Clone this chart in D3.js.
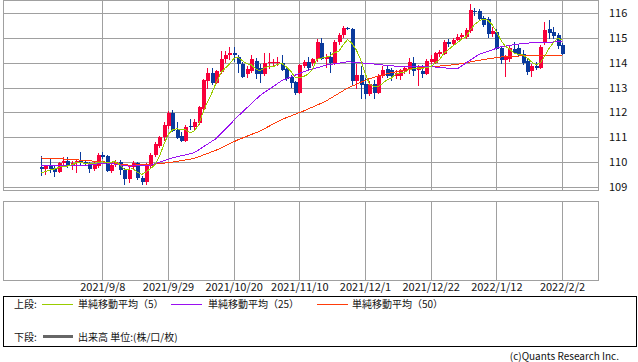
<!DOCTYPE html>
<html>
<head>
<meta charset="utf-8">
<script src="https://cdn.jsdelivr.net/npm/d3@7"></script>
<style>
body { margin: 0; background: #fff; }
text { font-family: "Noto Sans CJK JP", "Noto Sans", sans-serif; fill: #111; }
</style>
</head>
<body>
<svg id="svg1" width="638" height="362"></svg>
<script>
// daily candles, 2021/8/19 - 2022/2/2 (weekdays)
var opens  = [109.80,109.72,109.84,109.76,109.60,109.95,110.06,109.84,109.99,110.06,
              110.00,109.93,109.72,109.84,110.28,110.24,109.66,109.90,110.00,109.67,
              109.33,109.80,109.98,109.37,109.19,109.83,110.30,110.64,111.00,111.45,
              111.99,111.30,111.05,110.85,111.46,111.40,111.56,112.12,113.27,113.58,
              113.20,113.63,114.14,114.30,114.40,114.25,113.94,113.54,113.67,114.07,
              113.80,113.54,113.98,114.00,113.98,113.97,113.74,113.44,113.23,112.80,
              113.87,114.03,113.98,114.14,114.79,114.14,114.25,113.98,114.83,115.10,
              115.40,115.35,113.27,113.50,113.13,112.73,113.13,112.80,113.48,113.75,
              113.72,113.48,113.45,113.65,113.75,113.98,113.70,113.65,113.54,114.05,
              114.00,114.36,114.34,114.84,114.75,114.92,115.05,115.02,115.28,116.10,
              116.09,115.80,115.75,115.15,115.25,114.60,114.12,114.14,114.57,114.60,
              114.34,114.07,113.66,113.85,113.80,114.79,115.35,115.22,115.11,114.70];
var highs  = [110.24,109.90,110.15,109.90,110.02,110.20,110.22,110.05,110.10,110.42,
              110.10,110.00,110.02,110.36,110.42,110.30,109.98,110.10,110.10,109.75,
              109.80,110.05,110.00,109.45,109.95,110.35,110.80,111.05,111.60,112.05,
              112.08,111.60,111.20,111.48,111.72,111.72,112.28,113.35,113.78,113.78,
              113.70,114.48,114.48,114.63,114.65,114.30,114.05,113.85,114.30,114.20,
              113.95,114.38,114.40,114.15,114.25,114.30,113.80,113.50,113.25,113.95,
              114.10,114.25,114.20,114.95,114.99,114.35,114.45,114.90,115.18,115.46,
              115.45,115.40,113.95,113.85,113.40,113.25,113.30,113.55,113.85,113.90,
              113.80,113.70,113.75,113.85,114.20,114.25,113.90,113.90,114.15,114.30,
              114.45,114.50,114.90,114.95,115.00,115.15,115.20,115.40,116.35,116.20,
              116.15,115.90,115.85,115.45,115.35,114.65,114.30,114.70,114.85,114.75,
              114.50,114.15,113.95,114.05,114.72,115.62,115.73,115.45,115.20,114.80];
var lows   = [109.43,109.50,109.57,109.39,109.55,109.90,109.75,109.68,109.58,109.90,
              109.85,109.55,109.65,109.78,110.13,109.60,109.55,109.80,109.50,109.07,
              109.15,109.70,109.28,109.10,109.08,109.78,110.20,110.55,110.85,111.35,
              111.20,110.92,110.80,110.82,111.30,111.30,111.50,112.05,112.96,113.10,
              113.15,113.55,113.98,114.10,114.05,113.60,113.40,113.40,113.60,113.35,
              113.20,113.45,113.75,113.85,113.85,113.65,113.25,113.00,112.72,112.75,
              113.80,113.70,113.85,114.05,114.10,113.80,113.60,113.90,114.70,115.00,
              115.30,113.10,112.95,112.55,112.55,112.65,112.55,112.75,113.40,113.40,
              113.25,113.35,113.30,113.55,113.55,113.45,113.06,113.40,113.50,113.95,
              113.95,114.25,114.30,114.65,114.70,114.88,114.95,114.95,115.20,115.90,
              115.70,115.45,115.00,115.05,114.50,113.95,113.44,114.05,114.35,114.25,
              113.90,113.50,113.42,113.70,113.75,114.70,114.95,114.95,114.55,114.30];
var closes = [109.74,109.84,109.74,109.60,109.97,110.06,109.84,109.97,110.05,110.00,
              109.91,109.72,109.96,110.28,110.22,109.66,109.90,110.00,109.67,109.33,
              109.70,109.95,109.36,109.19,109.87,110.30,110.73,111.00,111.48,111.99,
              111.27,110.98,110.85,111.42,111.40,111.61,112.23,113.29,113.58,113.17,
              113.65,114.17,114.30,114.40,114.32,113.94,113.44,113.74,114.14,113.54,
              113.54,113.98,114.05,114.05,114.05,113.71,113.33,113.20,112.80,113.90,
              114.03,113.77,114.17,114.82,114.14,114.25,113.98,114.83,115.10,115.40,
              115.35,113.27,113.50,113.10,112.73,113.13,112.80,113.45,113.72,113.45,
              113.48,113.60,113.70,113.78,114.05,113.67,113.75,113.55,114.07,114.15,
              114.41,114.42,114.84,114.75,114.92,115.05,115.12,115.33,116.13,116.03,
              115.76,115.52,115.15,115.28,114.57,114.10,114.25,114.61,114.41,114.34,
              114.00,113.63,113.85,113.78,114.65,115.33,115.19,115.06,114.68,114.34];

// MA(5) for the first four days (needs data before the window)
var ma5Head = [109.57, 109.62, 109.68, 109.72];
// MA(25) / MA(50) read every 5 days
var maIdx = [0,5,10,15,20,25,30,35,40,45,50,55,60,65,70,75,80,85,90,95,100,105,110,115,119];
var ma25  = [109.86,109.86,109.87,109.97,109.84,109.88,110.17,110.38,110.95,111.85,112.68,113.28,
             113.64,113.90,114.04,113.97,113.87,113.86,113.83,113.75,114.33,114.64,114.78,114.83,114.84];
var ma50  = [110.17,110.13,110.07,110.00,109.88,109.90,110.00,110.15,110.48,110.90,111.25,111.72,
             112.06,112.45,112.98,113.36,113.60,113.77,113.85,113.93,114.10,114.23,114.28,114.30,114.30];

var priceTicks = [109,110,111,112,113,114,115,116];
var dateTicks = ["2021/9/8","2021/9/29","2021/10/20","2021/11/10","2021/12/1","2021/12/22","2022/1/12","2022/2/2"];

var fmt = d3.timeFormat("%Y/%-m/%-d");
var dates = d3.timeDay.range(new Date(2021,7,19), new Date(2022,1,3))
    .filter(function(d){ return d.getDay() !== 0 && d.getDay() !== 6; })
    .map(fmt);

var ma5 = closes.map(function(c, i){
    return i < 4 ? ma5Head[i] : d3.mean(closes.slice(i-4, i+1));
});

var L = 3, R = 598, T = 0, B = 190;     // upper panel
var vT = 201, vB = 280;                 // lower panel
var gridColor = '#a0a0a0';
var upColor = '#f8003a', downColor = '#0a3a9c';

var svg = d3.select('#svg1');

var x = d3.scalePoint().domain(dates).range([41, 562]);
var y = d3.scaleLinear().domain([108.88, 116.525]).range([B, T]);

// horizontal grid + price labels
var yAxis = svg.append('g')
    .attr('transform', 'translate(' + R + ',0)')
    .call(d3.axisRight(y).tickValues(priceTicks).tickSize(-(R-L)).tickPadding(11).tickFormat(d3.format('d')));
yAxis.select('.domain').remove();
yAxis.selectAll('line').attr('stroke', gridColor).attr('shape-rendering', 'crispEdges');
yAxis.selectAll('text').style('font-size', '11px').attr('fill', '#111');

// vertical grid, upper panel
var xGrid = svg.append('g')
    .attr('transform', 'translate(0,' + B + ')')
    .call(d3.axisBottom(x).tickValues(dateTicks).tickSize(-(B-T)).tickFormat(''));
xGrid.select('.domain').remove();
xGrid.selectAll('line').attr('stroke', gridColor).attr('shape-rendering', 'crispEdges');

// lower panel, vertical grid + date labels
var xAxis = svg.append('g')
    .attr('transform', 'translate(0,' + vB + ')')
    .call(d3.axisBottom(x).tickValues(dateTicks).tickSize(-(vB-vT)).tickPadding(3));
xAxis.select('.domain').remove();
xAxis.selectAll('line').attr('stroke', gridColor).attr('shape-rendering', 'crispEdges');
xAxis.selectAll('text').style('font-size', '11px').attr('fill', '#111');

// panel borders
svg.append('rect').attr('x', L + .5).attr('y', T + .5).attr('width', R - L).attr('height', B - T)
    .attr('fill', 'none').attr('stroke', gridColor);
svg.append('rect').attr('x', L + .5).attr('y', vT + .5).attr('width', R - L).attr('height', vB - vT)
    .attr('fill', 'none').attr('stroke', gridColor);

// candles
var candles = svg.append('g').selectAll('g')
    .data(dates)
    .enter()
    .append('g')
    .attr('shape-rendering', 'crispEdges');

candles.append('line')
    .attr('x1', function(d){ return Math.round(x(d)) + .5; })
    .attr('x2', function(d){ return Math.round(x(d)) + .5; })
    .attr('y1', function(d, i){ return y(highs[i]); })
    .attr('y2', function(d, i){ return y(lows[i]); })
    .attr('stroke', function(d, i){ return closes[i] >= opens[i] ? upColor : downColor; });

candles.append('rect')
    .attr('x', function(d){ return Math.round(x(d)) - 1; })
    .attr('width', 4)
    .attr('y', function(d, i){ return y(Math.max(opens[i], closes[i])); })
    .attr('height', function(d, i){ return Math.max(1, Math.abs(y(opens[i]) - y(closes[i]))); })
    .attr('fill', function(d, i){ return closes[i] >= opens[i] ? upColor : downColor; });

// moving averages
var line = d3.line()
    .x(function(d){ return x(dates[d[0]]); })
    .y(function(d){ return y(d[1]); });

svg.append('path')
    .attr('d', line(maIdx.map(function(k, j){ return [k, ma50[j]]; })))
    .attr('fill', 'none').attr('stroke', '#ff3c0a').attr('stroke-width', 1)
    .attr('shape-rendering', 'crispEdges');
svg.append('path')
    .attr('d', line(maIdx.map(function(k, j){ return [k, ma25[j]]; })))
    .attr('fill', 'none').attr('stroke', '#9a10f0').attr('stroke-width', 1)
    .attr('shape-rendering', 'crispEdges');
svg.append('path')
    .attr('d', line(ma5.map(function(v, i){ return [i, v]; })))
    .attr('fill', 'none').attr('stroke', '#99cc00').attr('stroke-width', 1)
    .attr('shape-rendering', 'crispEdges');

// legend
svg.append('rect').attr('x', 3.5).attr('y', 296.5).attr('width', 633).attr('height', 50)
    .attr('fill', 'none').attr('stroke', '#000');

var legend = [
    {label: '上段:', x: 14, y: 308},
    {label: '単純移動平均（5）', x: 78, y: 308},
    {label: '単純移動平均（25）', x: 208, y: 308},
    {label: '単純移動平均（50）', x: 352, y: 308},
    {label: '下段:', x: 14, y: 340.5},
    {label: '出来高 単位:(株/口/枚)', x: 78, y: 340.5}
];
svg.selectAll('.leg')
    .data(legend)
    .enter()
    .append('text')
    .attr('class', 'leg')
    .attr('x', function(d){ return d.x; })
    .attr('y', function(d){ return d.y; })
    .style('font-size', '10px')
    .text(function(d){ return d.label; });

var swatches = [
    {x1: 42, x2: 73, y: 304.5, c: '#99cc00', w: 1},
    {x1: 171, x2: 202, y: 304.5, c: '#9a10f0', w: 1},
    {x1: 317, x2: 348, y: 304.5, c: '#ff3c0a', w: 1},
    {x1: 43, x2: 73, y: 336.5, c: '#666', w: 3}
];
svg.selectAll('.sw')
    .data(swatches)
    .enter()
    .append('line')
    .attr('class', 'sw')
    .attr('x1', function(d){ return d.x1; })
    .attr('x2', function(d){ return d.x2; })
    .attr('y1', function(d){ return d.y; })
    .attr('y2', function(d){ return d.y; })
    .attr('stroke', function(d){ return d.c; })
    .attr('stroke-width', function(d){ return d.w; });

svg.append('text')
    .attr('x', 619).attr('y', 360)
    .attr('text-anchor', 'end')
    .style('font-size', '10px')
    .attr('fill', '#333')
    .text('(c)Quants Research Inc.');
</script>
</body>
</html>
